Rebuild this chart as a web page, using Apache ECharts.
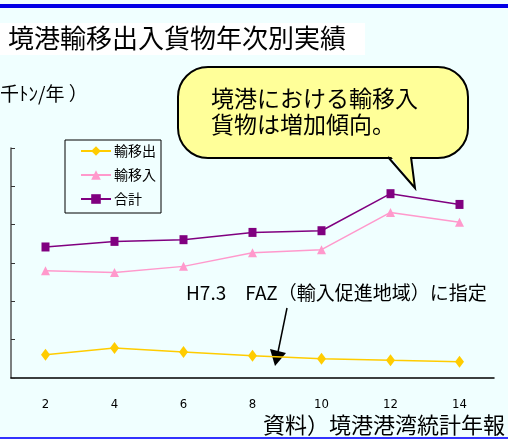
<!DOCTYPE html>
<html><head><meta charset="utf-8">
<script src="https://cdn.jsdelivr.net/npm/echarts@6/dist/echarts.min.js"></script>
<style>html,body{margin:0;padding:0;background:#f0ffff;}#c{width:508px;height:439px;}</style>
</head><body><div id="c"></div>
<script>
const categories = ['2','4','6','8','10','12','14'];
const exportVals = [304, 391, 339, 291, 252, 230, 213];
const importVals = [1400, 1377, 1456, 1634, 1674, 2160, 2030];
const totalVals = [1709, 1782, 1804, 1899, 1921, 2404, 2264];
const seriesNames = ['輸移出', '輸移入', '合計'];

const JP = '"Noto Sans CJK JP", sans-serif';
const chart = echarts.init(document.getElementById('c'), null, {renderer: 'canvas'});
chart.setOption({
  backgroundColor: '#f0ffff',
  animation: false,
  grid: {left: 11, right: 14, top: 148, bottom: 61},
  xAxis: {
    type: 'category', data: categories, boundaryGap: true,
    axisLine: {lineStyle: {color: '#000', width: 1.5}},
    axisTick: {inside: true, length: 6, lineStyle: {color: '#000'}},
    axisLabel: {color: '#000', fontSize: 13, margin: 20, fontFamily: '"Liberation Sans Narrow", "DejaVu Sans Condensed", sans-serif'}
  },
  yAxis: {
    type: 'value', min: 0, max: 3000, interval: 500,
    axisLine: {show: true, lineStyle: {color: '#555', width: 1.5}},
    axisTick: {show: true, inside: true, length: 4, lineStyle: {color: '#333'}},
    axisLabel: {show: false},
    splitLine: {show: false}
  },
  legend: {
    orient: 'vertical', left: 80, top: 144, itemWidth: 30, itemHeight: 12, itemGap: 10,
    padding: 0,
    textStyle: {fontSize: 14, fontFamily: JP, color: '#000', padding: [0,0,0,-2]},
    data: seriesNames
  },
  series: [
    {name: seriesNames[0], type: 'line', data: exportVals, symbol: 'diamond', symbolSize: [9, 12],
     lineStyle: {color: '#ffcc00', width: 1.5}, itemStyle: {color: '#ffcc00'}},
    {name: seriesNames[1], type: 'line', data: importVals, symbol: 'triangle', symbolSize: 9,
     lineStyle: {color: '#ff99cc', width: 1.5}, itemStyle: {color: '#ff99cc'}},
    {name: seriesNames[2], type: 'line', data: totalVals, symbol: 'rect', symbolSize: [8, 9],
     lineStyle: {color: '#800080', width: 1.5}, itemStyle: {color: '#800080'}}
  ],
  graphic: [
    {type: 'rect', shape: {x: 0, y: 4, width: 508, height: 4}, style: {fill: '#0000e6'}, silent: true},
    {type: 'rect', shape: {x: 0, y: 437, width: 508, height: 2}, style: {fill: '#3333ff'}, silent: true},
    {type: 'rect', shape: {x: 0, y: 23, width: 365, height: 32}, style: {fill: '#ffffff'}, silent: true},
    {type: 'text', left: 8, top: 25, style: {text: '境港輸移出入貨物年次別実績', font: '26px ' + JP, fill: '#000'}},
    {type: 'text', left: 0, top: 84, style: {text: '千ﾄﾝ/年 ）', font: '19px ' + JP, fill: '#000'}},
    {type: 'rect', shape: {x: 65, y: 140, width: 96, height: 73}, style: {fill: 'none', stroke: '#000', lineWidth: 1}, z: 10},
    {type: 'rect', shape: {x: 178, y: 67, width: 290, height: 91, r: 30}, style: {fill: '#ffff99', stroke: '#000', lineWidth: 2}, z: 20},
    {type: 'polygon', shape: {points: [[389, 154], [410, 154], [415, 188]]}, style: {fill: '#ffff99'}, z: 21},
    {type: 'polyline', shape: {points: [[388, 157], [415, 188], [411, 157]]}, style: {stroke: '#000', lineWidth: 2, fill: 'none'}, z: 22},
    {type: 'text', left: 211, top: 85, z: 23, style: {text: '境港における輸移入\n貨物は増加傾向。', font: '23px ' + JP, lineHeight: 26, fill: '#000'}},
    {type: 'text', left: 186, top: 283, style: {text: 'H7.3　FAZ（輸入促進地域）に指定', font: '19px ' + JP, fill: '#000'}},
    {type: 'line', shape: {x1: 287, y1: 308, x2: 278, y2: 352}, style: {stroke: '#000', lineWidth: 1.5}},
    {type: 'polygon', shape: {points: [[270, 349], [286, 353], [275, 366]]}, style: {fill: '#000'}},
    {type: 'text', right: 3, top: 414, style: {text: '資料）境港港湾統計年報', font: '22px ' + JP, fill: '#000'}}
  ]
});
</script></body></html>
